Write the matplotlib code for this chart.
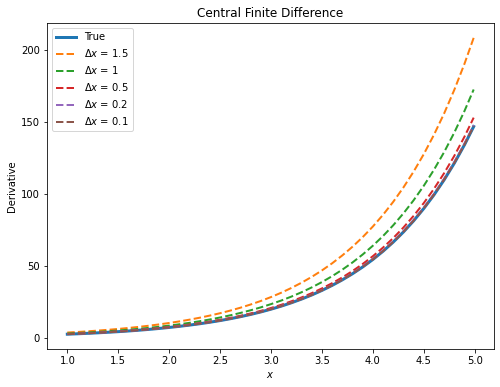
import matplotlib
matplotlib.use('Agg')
import matplotlib.pyplot as plt

# Sample points along x
x = [1.0, 1.1, 1.2, 1.3, 1.4, 1.5, 1.6, 1.7, 1.8, 1.9,
     2.0, 2.1, 2.2, 2.3, 2.4, 2.5, 2.6, 2.7, 2.8, 2.9,
     3.0, 3.1, 3.2, 3.3, 3.4, 3.5, 3.6, 3.7, 3.8, 3.9,
     4.0, 4.1, 4.2, 4.3, 4.4, 4.5, 4.6, 4.7, 4.8, 4.9, 4.99]

true_vals = [2.72, 3.00, 3.32, 3.67, 4.06, 4.48, 4.95, 5.47, 6.05, 6.69,
             7.39, 8.17, 9.03, 9.97, 11.02, 12.18, 13.46, 14.88, 16.44, 18.17,
             20.09, 22.20, 24.53, 27.11, 29.96, 33.12, 36.60, 40.45, 44.70, 49.40,
             54.60, 60.34, 66.69, 73.70, 81.45, 90.02, 99.48, 109.95, 121.51, 134.29, 146.94]
dx_15 = [3.86, 4.26, 4.71, 5.21, 5.76, 6.36, 7.03, 7.77, 8.59, 9.49,
         10.49, 11.59, 12.81, 14.16, 15.65, 17.29, 19.11, 21.12, 23.34, 25.80,
         28.51, 31.51, 34.83, 38.49, 42.53, 47.01, 51.95, 57.42, 63.45, 70.13,
         77.50, 85.65, 94.66, 104.62, 115.62, 127.78, 141.22, 156.07, 172.48, 190.62, 208.58]
dx_1 = [3.19, 3.53, 3.90, 4.31, 4.77, 5.27, 5.82, 6.43, 7.11, 7.86,
        8.68, 9.60, 10.61, 11.72, 12.95, 14.32, 15.82, 17.49, 19.33, 21.36,
        23.61, 26.09, 28.83, 31.86, 35.21, 38.92, 43.01, 47.53, 52.53, 58.06,
        64.16, 70.91, 78.37, 86.61, 95.72, 105.79, 116.91, 129.21, 142.80, 157.82, 172.68]
dx_05 = [2.83, 3.13, 3.46, 3.82, 4.23, 4.67, 5.16, 5.70, 6.31, 6.97,
         7.70, 8.51, 9.41, 10.39, 11.49, 12.70, 14.03, 15.51, 17.14, 18.94,
         20.93, 23.13, 25.57, 28.26, 31.23, 34.51, 38.14, 42.15, 46.59, 51.49,
         56.90, 62.89, 69.50, 76.81, 84.89, 93.81, 103.68, 114.59, 126.64, 139.96, 153.14]
dx_02 = [2.74, 3.02, 3.34, 3.69, 4.08, 4.51, 4.99, 5.51, 6.09, 6.73,
         7.44, 8.22, 9.09, 10.04, 11.10, 12.26, 13.55, 14.98, 16.55, 18.30,
         20.22, 22.35, 24.70, 27.29, 30.16, 33.34, 36.84, 40.72, 45.00, 49.73,
         54.96, 60.74, 67.13, 74.19, 82.00, 90.62, 100.15, 110.68, 122.32, 135.19, 147.92]
dx_01 = [2.72, 3.01, 3.33, 3.68, 4.06, 4.49, 4.96, 5.48, 6.06, 6.70,
         7.40, 8.18, 9.04, 9.99, 11.04, 12.20, 13.49, 14.90, 16.47, 18.20,
         20.12, 22.23, 24.57, 27.16, 30.01, 33.17, 36.66, 40.51, 44.77, 49.48,
         54.69, 60.44, 66.80, 73.82, 81.59, 90.17, 99.65, 110.13, 121.71, 134.51, 147.19]

labels = ['$\\Delta x$ = 1.5', '$\\Delta x$ = 1', '$\\Delta x$ = 0.5',
          '$\\Delta x$ = 0.2', '$\\Delta x$ = 0.1']
approx = [dx_15, dx_1, dx_05, dx_02, dx_01]
colors = ['C1', 'C2', 'C3', 'C4', 'C5']

fig = plt.figure(figsize=(500 / 72, 387 / 72), dpi=72)
ax = fig.add_axes([47 / 500, 38 / 387, 447 / 500, 326 / 387])

ax.plot(x, true_vals, color='C0', linewidth=3, label='True')
for vals, lab, c in zip(approx, labels, colors):
    ax.plot(x, vals, '--', color=c, linewidth=2, label=lab)

ax.set_title('Central Finite Difference')
ax.set_xlabel('$x$')
ax.set_ylabel('Derivative')
ax.legend(loc='upper left')

fig.savefig('out.png', dpi=72)
